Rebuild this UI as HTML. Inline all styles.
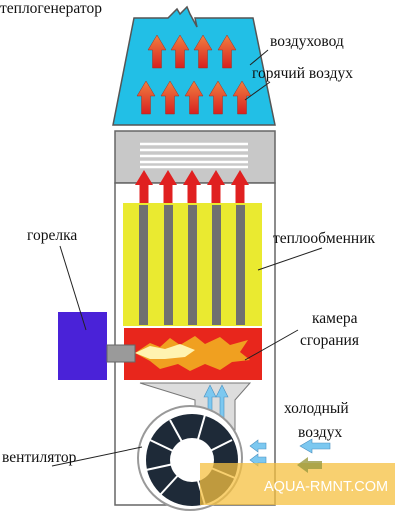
<!DOCTYPE html>
<html><head><meta charset="utf-8"><style>
body{margin:0;background:#fff;width:400px;height:524px;overflow:hidden}
text{font-family:"Liberation Serif","DejaVu Serif",serif;font-size:15.5px;fill:#111}
</style></head><body>
<svg width="400" height="524" viewBox="0 0 400 524">
<defs>
<linearGradient id="ra" x1="0" y1="0" x2="0" y2="1"><stop offset="0" stop-color="#f08040"/><stop offset="1" stop-color="#d82020"/></linearGradient>
<g id="arr"><path d="M-4.5,0 V-18 H-9 L0,-33 L9,-18 H4.5 V0 Z"/></g>
</defs>
<path d="M134,18 L168,18 L177,9 L180,14 L187,7 L190,14 L197,27 L195,18 L253,18 L275,125 L113,125 Z" fill="#22bfe6" stroke="#555" stroke-width="1.5"/>
<g fill="url(#ra)" stroke="#a03020" stroke-width="0.5">
<use href="#arr" x="157" y="68"/><use href="#arr" x="180" y="68"/><use href="#arr" x="203" y="68"/><use href="#arr" x="227" y="68"/>
<use href="#arr" x="146" y="114"/><use href="#arr" x="170" y="114"/><use href="#arr" x="194" y="114"/><use href="#arr" x="218" y="114"/><use href="#arr" x="242" y="114"/>
</g>
<rect x="115" y="131" width="160" height="52" fill="#c8c8c8" stroke="#666" stroke-width="1.5"/>
<g stroke="#fff" stroke-width="2.5">
<line x1="140" y1="144" x2="248" y2="144"/><line x1="140" y1="150" x2="248" y2="150"/><line x1="140" y1="156" x2="248" y2="156"/><line x1="140" y1="162" x2="248" y2="162"/><line x1="140" y1="167" x2="248" y2="167"/>
</g>
<rect x="115" y="183" width="160" height="322" fill="#fff" stroke="#666" stroke-width="1.5"/>
<rect x="123" y="203" width="139" height="123" fill="#eaea30"/>
<g fill="#707070">
<rect x="139" y="205" width="9" height="120"/><rect x="164" y="205" width="9" height="120"/><rect x="188" y="205" width="9" height="120"/><rect x="212" y="205" width="9" height="120"/><rect x="236" y="205" width="9" height="120"/>
</g>
<g fill="#e02020">
<use href="#arr" x="144" y="203"/><use href="#arr" x="168" y="203"/><use href="#arr" x="192" y="203"/><use href="#arr" x="216" y="203"/><use href="#arr" x="240" y="203"/>
</g>
<rect x="124" y="328" width="138" height="52" fill="#e8261c"/>
<path d="M135,353 L150,343 L160,347 L170,338 L180,345 L195,336 L205,344 L220,337 L230,345 L248,340 L240,352 L250,360 L232,362 L220,370 L205,364 L190,371 L178,364 L160,369 L150,361 Z" fill="#f0a020"/>
<path d="M135,353 L150,346 L165,349 L180,344 L195,350 L185,357 L165,359 L150,359 Z" fill="#fff3b0"/>
<rect x="58" y="312" width="49" height="68" fill="#4a22d8"/>
<rect x="107" y="345" width="28" height="17" fill="#9a9a9a" stroke="#666"/>
<path d="M140,383 L250,383 L235,400 L235,430 L195,430 L195,400 Z" fill="#ddd" stroke="#777"/>
<g fill="#7cc8f0" stroke="#4a90c0" stroke-width="0.6">
<path d="M208,430 V397 H204 L210,385 L216,397 H212 V430Z"/><path d="M220,430 V397 H216 L222,385 L228,397 H224 V430Z"/>
</g>
<g>
<circle cx="190" cy="458" r="52" fill="#fff" stroke="#999" stroke-width="2"/>
<circle cx="192" cy="460" r="46" fill="#1e2a38"/>
<g stroke="#fff" stroke-width="2">
<line x1="192" y1="460" x2="150" y2="440"/><line x1="192" y1="460" x2="170" y2="420"/><line x1="192" y1="460" x2="205" y2="415"/><line x1="192" y1="460" x2="232" y2="440"/><line x1="192" y1="460" x2="235" y2="478"/><line x1="192" y1="460" x2="205" y2="505"/><line x1="192" y1="460" x2="160" y2="495"/><line x1="192" y1="460" x2="146" y2="470"/></g>
<circle cx="192" cy="460" r="22" fill="#fff"/>
</g>
<g fill="#7cc8f0" stroke="#4a90c0" stroke-width="0.6">
<path d="M330,443 H312 V439 L300,446 L312,453 V449 H330Z"/>
<path d="M266,443 H258 V440 L250,446 L258,452 V449 H266Z"/>
<path d="M266,457 H258 V454 L250,460 L258,466 V463 H266Z"/>
</g>
<rect x="200" y="463" width="195" height="42" fill="#f5c040" opacity="0.75"/>
<text x="264" y="491" style="font-family:'Liberation Sans',sans-serif;font-size:14.5px;fill:#fff">AQUA-RMNT.COM</text>
<path d="M322,461 H308 V457 L297,465 L308,473 V469 H322Z" fill="#9a9a40" opacity="0.8"/>
<g stroke="#222" stroke-width="1">
<line x1="268" y1="50" x2="250" y2="65"/><line x1="270" y1="82" x2="245" y2="100"/>
<line x1="60" y1="246" x2="86" y2="330"/><line x1="322" y1="248" x2="258" y2="270"/>
<line x1="298" y1="330" x2="245" y2="360"/><line x1="52" y1="466" x2="142" y2="447"/>
</g>
<text x="0" y="13">теплогенератор</text>
<text x="270" y="46">воздуховод</text>
<text x="252" y="78">горячий воздух</text>
<text x="27" y="240">горелка</text>
<text x="273" y="243">теплообменник</text>
<text x="312" y="323">камера</text>
<text x="300" y="345">сгорания</text>
<text x="284" y="413">холодный</text>
<text x="298" y="437">воздух</text>
<text x="2" y="462">вентилятор</text>
</svg>
</body></html>
